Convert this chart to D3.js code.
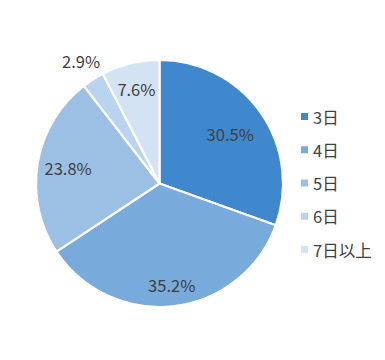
<!DOCTYPE html>
<html><head><meta charset="utf-8">
<script src="https://cdn.jsdelivr.net/npm/d3@7"></script>
<style>body{margin:0;background:#fff;}svg{display:block;font-family:"Noto Sans CJK JP","Noto Sans",sans-serif;}</style>
</head><body>
<script>
const categories = ["3日","4日","5日","6日","7日以上"];
const values = [30.5, 35.2, 23.8, 2.9, 7.6];
const labels = ["30.5%","35.2%","23.8%","2.9%","7.6%"];
const colors = ["#3f88cd","#78aadb","#9cc0e4","#bad3ee","#d4e3f3"];
const labelRadiusFactor = [0.70, 0.83, 0.75, 1.18, 0.79];

const W = 385, H = 360;
const cx = 159.5, cy = 183.5, r = 123.5;
const svg = d3.select("body").append("svg").attr("width", W).attr("height", H);
const g = svg.append("g").attr("transform", `translate(${cx},${cy})`);
const pie = d3.pie().sort(null).value(d => d)(values);
const arc = d3.arc().innerRadius(0).outerRadius(r);
g.selectAll("path").data(pie).join("path")
  .attr("d", arc).attr("fill", (d,i) => colors[i])
  .attr("stroke", "#fff").attr("stroke-width", 2.2).attr("stroke-linejoin","round");
g.selectAll("text.lbl").data(pie).join("text").attr("class","lbl")
  .attr("transform", (d,i) => {
    const la = d3.arc().innerRadius(r*labelRadiusFactor[i]).outerRadius(r*labelRadiusFactor[i]);
    const [x,y] = la.centroid(d);
    return `translate(${x},${y})`;
  })
  .attr("text-anchor","middle").attr("dominant-baseline","central")
  .attr("font-size", 16.5).attr("fill", "#404040")
  .text((d,i) => labels[i]);

const ly = d3.scalePoint().domain(categories).range([116.5, 249.5]);
const leg = svg.append("g");
const items = leg.selectAll("g").data(categories).join("g")
  .attr("transform", d => `translate(301,${ly(d)})`);
items.append("rect").attr("x",0).attr("y",-3.5).attr("width",7).attr("height",7)
  .attr("fill", (d,i) => colors[i]);
items.append("text").attr("x", 12).attr("y", 0).attr("dominant-baseline","central")
  .attr("font-size", 16.5).attr("fill","#404040").text(d => d);
</script>
</body></html>
